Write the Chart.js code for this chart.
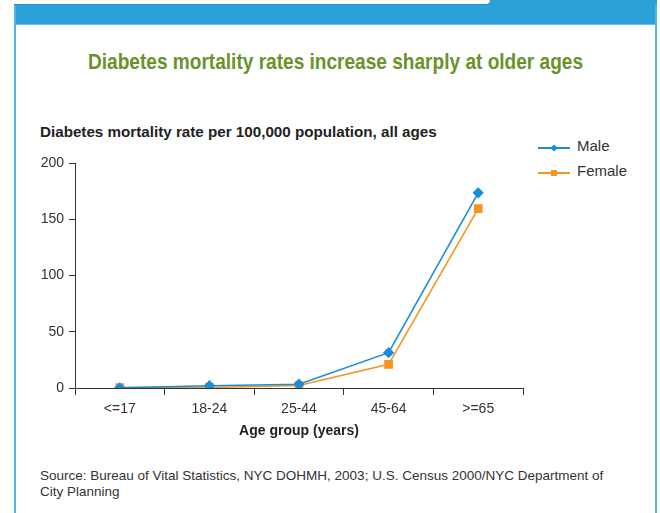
<!DOCTYPE html>
<html>
<head>
<meta charset="utf-8">
<script src="https://cdn.jsdelivr.net/npm/chart.js@4.4.1/dist/chart.umd.min.js"></script>
<style>
  html, body { margin: 0; padding: 0; background: #fff; }
  #page { position: relative; width: 660px; height: 513px; overflow: hidden; font-family: "Liberation Sans", Arial, sans-serif; }
  #band { position: absolute; left: 14px; top: 0; width: 643px; height: 24px; background: #2ca0d9; border-bottom: 1px solid #6cbde8; }
  #tab { position: absolute; left: 14px; top: 0; width: 476px; height: 4px; background: #fff; border-bottom: 1px solid #1b8fcf; border-right: 1px solid #1b8fcf; border-bottom-right-radius: 16px; }
  #leftline { position: absolute; left: 14px; top: 5px; width: 2px; height: 508px; background: #5ab4e3; }
  #rightline { position: absolute; left: 655px; top: 5px; width: 2px; height: 508px; background: #5ab4e3; }
  #title { position: absolute; left: 0; width: 671px; top: 49px; text-align: center; }
  #title span { display: inline-block; font-weight: bold; font-size: 22px; color: #6a922a; transform-origin: center; white-space: nowrap; }
  #subtitle { position: absolute; left: 40px; top: 123px; font-weight: bold; font-size: 15.2px; color: #222; white-space: nowrap; }
  #source { position: absolute; left: 40px; top: 468px; font-size: 13.5px; line-height: 16px; color: #333; width: 575px; }
  #legend { position: absolute; left: 538px; top: 137px; font-size: 15px; color: #333; }
  .item { position: relative; height: 25px; }
  .swatch { position: absolute; left: 0; top: 10px; width: 32px; height: 2px; }
  .mark { position: absolute; left: 13px; top: 8px; width: 6px; height: 6px; }
  .lab { position: absolute; left: 39px; top: 0; }
  canvas { position: absolute; left: 0; top: 0; }
</style>
</head>
<body>
<div id="page">
  <div id="band"></div>
  <div id="tab"></div>
  <div id="leftline"></div>
  <div id="rightline"></div>
  <div id="title"><span>Diabetes mortality rates increase sharply at older ages</span></div>
  <div id="subtitle">Diabetes mortality rate per 100,000 population, all ages</div>
  <div id="legend"></div>
  <div id="source">Source: Bureau of Vital Statistics, NYC DOHMH, 2003; U.S. Census 2000/NYC Department of City Planning</div>
  <canvas id="chart" width="660" height="513"></canvas>
</div>
<script>
const ageGroups = ["<=17", "18-24", "25-44", "45-64", ">=65"];
const maleRates = [0.2, 2.0, 3.4, 31.4, 173.5];
const femaleRates = [0.4, 0.5, 2.2, 21, 159.5];
const yTicks = [0, 50, 100, 150, 200];

const MALE_COLOR = "#1a8ed5";
const FEMALE_COLOR = "#f7931e";

const series = [
  { label: "Male", data: maleRates, color: MALE_COLOR, style: "rectRot", radius: 4.5 },
  { label: "Female", data: femaleRates, color: FEMALE_COLOR, style: "rect", radius: 5 },
];

// squeeze the headline to the condensed width of the original
const titleSpan = document.querySelector("#title span");
titleSpan.style.transform = `scaleX(${495 / titleSpan.offsetWidth})`;

// legend drawn as html
const legend = document.getElementById("legend");
series.forEach((s) => {
  const item = document.createElement("div");
  item.className = "item";
  const rot = s.style === "rectRot" ? "transform: rotate(45deg) scale(0.85);" : "";
  item.innerHTML = `<div class="swatch" style="background:${s.color}"></div>` +
    `<div class="mark" style="background:${s.color};${rot}"></div>` +
    `<div class="lab">${s.label}</div>`;
  legend.appendChild(item);
});

new Chart(document.getElementById("chart"), {
  type: "line",
  data: {
    labels: ageGroups,
    datasets: series.map((s) => ({
      label: s.label,
      data: s.data,
      borderColor: s.color,
      backgroundColor: s.color,
      borderWidth: 1.6,
      pointStyle: s.style,
      pointRadius: s.radius,
      pointHoverRadius: s.radius,
      tension: 0,
      fill: false,
    })),
  },
  options: {
    responsive: false,
    animation: false,
    layout: { padding: { top: 163, right: 137, left: 0, bottom: 73 } },
    plugins: { legend: { display: false }, tooltip: { enabled: false } },
    scales: {
      x: {
        offset: true,
        afterFit: (scale) => { scale.height = 52; },
        grid: { offset: true, drawOnChartArea: false, tickLength: 7, color: "#333", lineWidth: 1 },
        border: { color: "#333", width: 1 },
        ticks: { color: "#333", font: { family: "Liberation Sans", size: 14 }, padding: 6 },
        title: {
          display: true,
          text: "Age group (years)",
          color: "#222",
          font: { family: "Liberation Sans", size: 14, weight: "bold" },
          padding: 0,
        },
      },
      y: {
        min: 0,
        max: 200,
        afterFit: (scale) => { scale.width = 75; },
        afterBuildTicks: (scale) => { scale.ticks = yTicks.map((v) => ({ value: v })); },
        grid: { drawOnChartArea: false, tickLength: 6, color: "#333", lineWidth: 1 },
        border: { color: "#333", width: 1 },
        ticks: { color: "#333", font: { family: "Liberation Sans", size: 14 }, padding: 5 },
      },
    },
  },
});
</script>
</body>
</html>
